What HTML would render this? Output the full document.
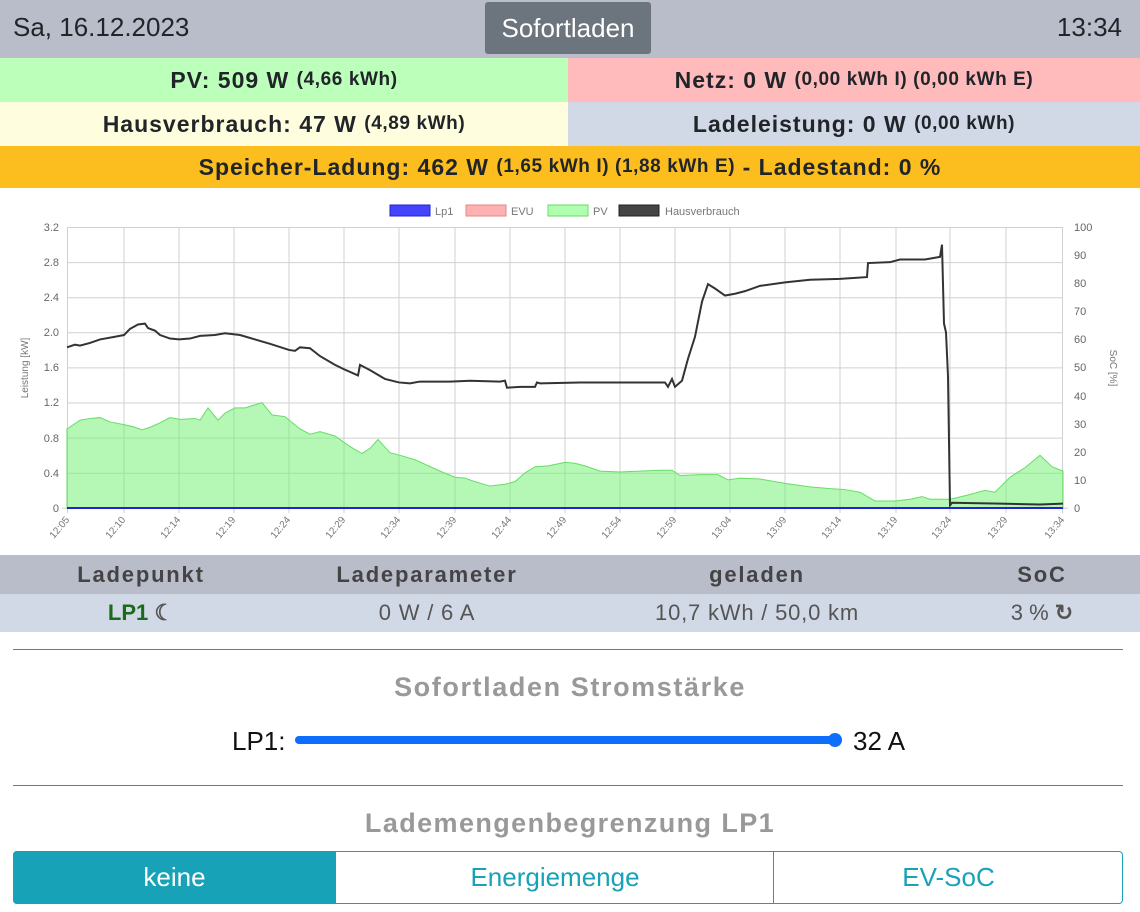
<!DOCTYPE html>
<html><head><meta charset="utf-8"><style>
*{margin:0;padding:0;box-sizing:border-box}
body{width:1140px;height:912px;background:#fff;font-family:"Liberation Sans",sans-serif;position:relative;overflow:hidden;color:#212529}
.a{position:absolute}
.c{display:flex;align-items:center;justify-content:center}
.b{font-weight:bold;font-size:23px;letter-spacing:1px}
.b small{font-size:19px;letter-spacing:0.6px}
.h{font-size:22px;font-weight:bold;color:#444;letter-spacing:1.8px}
</style></head><body>
<div class="a" style="left:0;top:0;width:1140px;height:58px;background:#b8bdc9"></div>
<div class="a" style="left:13px;top:12px;font-size:26px">Sa, 16.12.2023</div>
<div class="a c" style="left:485px;top:2px;width:166px;height:52px;background:#6c757d;color:#fff;font-size:26px;border-radius:3px">Sofortladen</div>
<div class="a" style="right:18px;top:12px;font-size:26px">13:34</div>
<div class="a c b" style="left:0;top:58px;width:568px;height:44px;background:#bbffbb">PV: 509 W&nbsp;<small>(4,66 kWh)</small></div>
<div class="a c b" style="left:568px;top:58px;width:572px;height:44px;background:#ffbbbb">Netz: 0 W&nbsp;<small>(0,00 kWh I) (0,00 kWh E)</small></div>
<div class="a c b" style="left:0;top:102px;width:568px;height:44px;background:#fefedf">Hausverbrauch: 47 W&nbsp;<small>(4,89 kWh)</small></div>
<div class="a c b" style="left:568px;top:102px;width:572px;height:44px;background:#d1d8e6">Ladeleistung: 0 W&nbsp;<small>(0,00 kWh)</small></div>
<div class="a c b" style="left:0;top:146px;width:1140px;height:42px;background:#fcbe1e">Speicher-Ladung: 462 W&nbsp;<small>(1,65 kWh I) (1,88 kWh E)</small>&nbsp;- Ladestand: 0 %</div>

<svg class="a" style="left:0;top:188px" width="1140" height="367" viewBox="0 188 1140 367" font-family="Liberation Sans,sans-serif">
<g stroke="#d0d0d0" stroke-width="1">
<line x1="67" x2="1063" y1="227.5" y2="227.5"/><line x1="67" x2="1063" y1="262.6" y2="262.6"/><line x1="67" x2="1063" y1="297.7" y2="297.7"/><line x1="67" x2="1063" y1="332.8" y2="332.8"/><line x1="67" x2="1063" y1="367.9" y2="367.9"/><line x1="67" x2="1063" y1="403" y2="403"/><line x1="67" x2="1063" y1="438.1" y2="438.1"/><line x1="67" x2="1063" y1="473.2" y2="473.2"/><line x1="62" x2="1068" y1="508.3" y2="508.3"/>
<line x1="67.5" x2="67.5" y1="227" y2="513"/><line x1="124" x2="124" y1="227" y2="513"/><line x1="179" x2="179" y1="227" y2="513"/><line x1="234" x2="234" y1="227" y2="513"/><line x1="289" x2="289" y1="227" y2="513"/><line x1="344" x2="344" y1="227" y2="513"/><line x1="399" x2="399" y1="227" y2="513"/><line x1="455" x2="455" y1="227" y2="513"/><line x1="510" x2="510" y1="227" y2="513"/><line x1="565" x2="565" y1="227" y2="513"/><line x1="620" x2="620" y1="227" y2="513"/><line x1="675" x2="675" y1="227" y2="513"/><line x1="730" x2="730" y1="227" y2="513"/><line x1="785" x2="785" y1="227" y2="513"/><line x1="840" x2="840" y1="227" y2="513"/><line x1="896" x2="896" y1="227" y2="513"/><line x1="950" x2="950" y1="227" y2="513"/><line x1="1006" x2="1006" y1="227" y2="513"/><line x1="1062.5" x2="1062.5" y1="227" y2="513"/>
</g>
<g transform="translate(0,508) scale(1,-87.8)">
<polygon fill="rgba(120,240,120,0.55)" stroke="#66dd66" stroke-width="1" vector-effect="non-scaling-stroke" points="67,0 67,0.9 80,1.0 90,1.02 100,1.03 110,0.98 124,0.95 135,0.92 142,0.89 150,0.92 160,0.97 170,1.03 180,1.01 195,1.02 200,1.0 208,1.14 218,1.0 225,1.08 235,1.14 245,1.14 262,1.2 272,1.06 285,1.04 300,0.9 310,0.84 320,0.87 335,0.82 350,0.7 362,0.62 370,0.68 378,0.78 390,0.63 400,0.6 415,0.55 440,0.42 455,0.35 465,0.34 475,0.3 490,0.25 505,0.27 515,0.3 525,0.4 535,0.47 548,0.48 565,0.52 575,0.51 585,0.48 600,0.42 620,0.41 640,0.42 660,0.43 672,0.43 680,0.37 700,0.38 718,0.38 728,0.32 740,0.34 760,0.33 785,0.28 810,0.24 830,0.22 845,0.21 860,0.18 875,0.08 895,0.08 910,0.1 922,0.13 930,0.1 950,0.1 965,0.14 985,0.2 995,0.18 1010,0.35 1025,0.46 1040,0.6 1052,0.47 1063,0.42 1063,0"/>
<polyline fill="none" stroke="#333" stroke-width="2" vector-effect="non-scaling-stroke" points="67,1.83 75,1.86 80,1.85 90,1.88 100,1.92 115,1.95 124,1.97 130,2.04 138,2.09 145,2.1 148,2.05 155,2.02 160,1.97 170,1.93 179,1.92 190,1.93 200,1.96 215,1.97 225,1.99 240,1.97 255,1.92 270,1.87 289,1.8 295,1.79 300,1.83 310,1.82 320,1.73 335,1.63 344,1.58 358,1.51 360,1.63 370,1.57 385,1.47 399,1.43 410,1.42 420,1.44 450,1.44 470,1.45 500,1.44 505,1.45 507,1.37 520,1.38 535,1.38 537,1.43 540,1.42 580,1.43 620,1.43 665,1.43 668,1.38 672,1.47 675,1.38 682,1.45 688,1.7 695,1.95 702,2.35 708,2.55 715,2.5 725,2.42 735,2.44 745,2.47 760,2.53 785,2.57 810,2.6 840,2.61 867,2.63 868,2.79 890,2.8 900,2.83 925,2.83 940,2.86 942,3.0 944,2.1 946,2.0 948,1.5 950,0.03 952,0.06 1000,0.05 1040,0.04 1063,0.05"/>
</g>
<line x1="67" x2="1063" y1="508" y2="508" stroke="#2222dd" stroke-width="2"/>
<g font-size="11" fill="#666" text-anchor="end">
<text x="59" y="231">3.2</text><text x="59" y="266">2.8</text><text x="59" y="301">2.4</text><text x="59" y="336">2.0</text><text x="59" y="371">1.6</text><text x="59" y="406">1.2</text><text x="59" y="442">0.8</text><text x="59" y="477">0.4</text><text x="59" y="512">0</text>
</g>
<g font-size="11" fill="#666">
<text x="1074" y="231">100</text><text x="1074" y="259">90</text><text x="1074" y="287">80</text><text x="1074" y="315">70</text><text x="1074" y="343">60</text><text x="1074" y="371">50</text><text x="1074" y="400">40</text><text x="1074" y="428">30</text><text x="1074" y="456">20</text><text x="1074" y="484">10</text><text x="1074" y="512">0</text>
</g>
<text font-size="10" fill="#777" transform="translate(28,368) rotate(-90)" text-anchor="middle">Leistung [kW]</text>
<text font-size="10" fill="#777" transform="translate(1110,368) rotate(90)" text-anchor="middle">SoC [%]</text>
<g font-size="10" fill="#777" text-anchor="end">
<text transform="translate(70,520) rotate(-50)">12:05</text><text transform="translate(126,520) rotate(-50)">12:10</text><text transform="translate(181,520) rotate(-50)">12:14</text><text transform="translate(236,520) rotate(-50)">12:19</text><text transform="translate(291,520) rotate(-50)">12:24</text><text transform="translate(346,520) rotate(-50)">12:29</text><text transform="translate(401,520) rotate(-50)">12:34</text><text transform="translate(457,520) rotate(-50)">12:39</text><text transform="translate(512,520) rotate(-50)">12:44</text><text transform="translate(567,520) rotate(-50)">12:49</text><text transform="translate(622,520) rotate(-50)">12:54</text><text transform="translate(677,520) rotate(-50)">12:59</text><text transform="translate(732,520) rotate(-50)">13:04</text><text transform="translate(787,520) rotate(-50)">13:09</text><text transform="translate(842,520) rotate(-50)">13:14</text><text transform="translate(898,520) rotate(-50)">13:19</text><text transform="translate(952,520) rotate(-50)">13:24</text><text transform="translate(1008,520) rotate(-50)">13:29</text><text transform="translate(1065,520) rotate(-50)">13:34</text>
</g>
<g font-size="11" fill="#777">
<rect x="390" y="205" width="40" height="11" fill="#4444ff" stroke="#2222cc"/><text x="435" y="215">Lp1</text>
<rect x="466" y="205" width="40" height="11" fill="#ffb0b0" stroke="#e08888"/><text x="511" y="215">EVU</text>
<rect x="548" y="205" width="40" height="11" fill="#b0ffb0" stroke="#66dd66"/><text x="593" y="215">PV</text>
<rect x="619" y="205" width="40" height="11" fill="#444" stroke="#222"/><text x="665" y="215">Hausverbrauch</text>
</g>
</svg>

<div class="a" style="left:0;top:555px;width:1140px;height:39px;background:#b8bdc9"></div>
<div class="a" style="left:0;top:594px;width:1140px;height:38px;background:#d1d8e6"></div>
<div class="a c h" style="left:0;top:555px;width:282px;height:39px">Ladepunkt</div>
<div class="a c h" style="left:282px;top:555px;width:290px;height:39px">Ladeparameter</div>
<div class="a c h" style="left:572px;top:555px;width:370px;height:39px">geladen</div>
<div class="a c h" style="left:942px;top:555px;width:200px;height:39px">SoC</div>
<div class="a c" style="left:0;top:594px;width:282px;height:38px;font-size:22px;font-weight:bold;color:#1a6b1a">LP1&nbsp;<span style="color:#555">☾</span></div>
<div class="a c" style="left:282px;top:594px;width:290px;height:38px;font-size:22px;color:#555;letter-spacing:0.8px">0 W / 6 A</div>
<div class="a c" style="left:572px;top:594px;width:370px;height:38px;font-size:22px;color:#555;letter-spacing:0.8px">10,7 kWh / 50,0 km</div>
<div class="a c" style="left:942px;top:594px;width:200px;height:38px;font-size:22px;color:#555">3 %&nbsp;<b>↻</b></div>
<div class="a" style="left:13px;top:649px;width:1110px;height:1px;background:#777"></div>
<div class="a c" style="left:0;top:668px;width:1140px;height:38px;font-size:27px;font-weight:bold;color:#999;letter-spacing:1.6px">Sofortladen Stromstärke</div>
<div class="a" style="left:232px;top:726px;font-size:26px;color:#111">LP1:</div>
<div class="a" style="left:295px;top:736px;width:542px;height:8px;background:#0d6efd;border-radius:4px"></div>
<div class="a" style="left:828px;top:733px;width:14px;height:14px;background:#0d6efd;border-radius:50%"></div>
<div class="a" style="left:853px;top:726px;font-size:26px;color:#111">32 A</div>
<div class="a" style="left:13px;top:785px;width:1110px;height:1px;background:#777"></div>
<div class="a c" style="left:0;top:804px;width:1140px;height:38px;font-size:27px;font-weight:bold;color:#999;letter-spacing:1.4px">Lademengenbegrenzung LP1</div>
<div class="a" style="left:13px;top:851px;width:1110px;height:53px;border:1px solid #17a2b8;border-radius:4px"></div>
<div class="a c" style="left:13px;top:851px;width:323px;height:53px;background:#17a2b8;color:#fff;font-size:26px;border-radius:4px 0 0 4px">keine</div>
<div class="a c" style="left:336px;top:851px;width:438px;height:53px;color:#17a2b8;font-size:26px">Energiemenge</div>
<div class="a" style="left:773px;top:851px;width:1px;height:53px;background:#17a2b8"></div>
<div class="a c" style="left:774px;top:851px;width:349px;height:53px;color:#17a2b8;font-size:26px">EV-SoC</div>
</body></html>
